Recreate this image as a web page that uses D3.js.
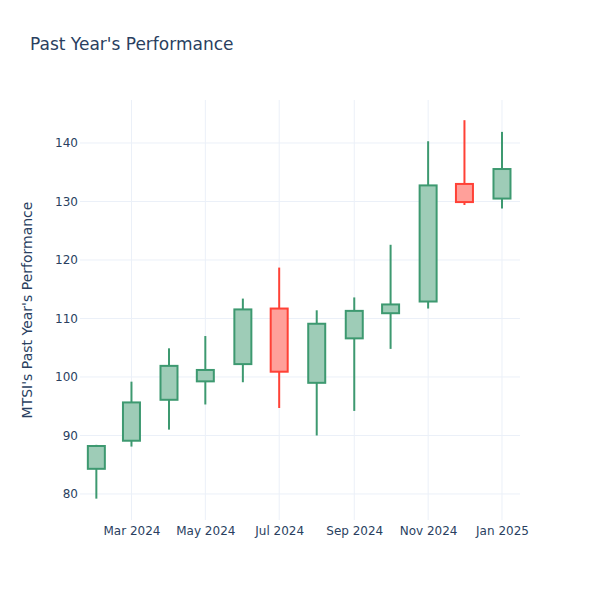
<!DOCTYPE html>
<html><head><meta charset="utf-8">
<script src="https://cdn.jsdelivr.net/npm/d3@7"></script>
<style>body{margin:0;background:#fff}svg{display:block}</style>
</head><body>
<svg id="c" width="600" height="600"></svg>
<script>
const dates = ["2024-02-01","2024-03-01","2024-04-01","2024-05-01","2024-06-01","2024-07-01","2024-08-01","2024-09-01","2024-10-01","2024-11-01","2024-12-01","2025-01-01"];
const open  = [84.3, 89.1, 96.1, 99.25, 102.2, 111.7, 99.0, 106.6, 110.9, 112.9, 133.0, 130.5];
const high  = [88.4, 99.2, 104.9, 107.0, 113.4, 118.7, 111.4, 113.6, 122.6, 140.3, 143.9, 141.9];
const low   = [79.2, 88.1, 91.0, 95.3, 99.1, 94.7, 90.0, 94.2, 104.8, 111.7, 129.4, 128.8];
const close = [88.2, 95.65, 101.9, 101.2, 111.55, 100.9, 109.1, 111.3, 112.4, 132.75, 129.9, 135.55];
const yTicks = [80, 90, 100, 110, 120, 130, 140];
const xTickDates = ["2024-03-01","2024-05-01","2024-07-01","2024-09-01","2024-11-01","2025-01-01"];

const W = 600, H = 600, m = {l:80, r:80, t:100, b:80};
const FONT = "'DejaVu Sans', 'Open Sans', sans-serif";
const svg = d3.select("#c");
const parse = d3.utcParse("%Y-%m-%d");
const data = dates.map((d,i)=>({d:parse(d), o:open[i], h:high[i], l:low[i], c:close[i]}));

const x = d3.scaleUtc()
  .domain([Date.UTC(2024,0,18,12), Date.UTC(2025,0,15,21)])
  .range([m.l, W-m.r]);
const y = d3.scaleLinear().domain([75.55, 147.35]).range([H-m.b, m.t]);

// grid
const g = svg.append("g");
g.selectAll(".gx").data(xTickDates.map(parse)).join("line")
  .attr("x1", d=>x(d)).attr("x2", d=>x(d)).attr("y1", m.t).attr("y2", H-m.b)
  .attr("stroke", "#EBF0F8").attr("stroke-width", 1);
g.selectAll(".gy").data(yTicks).join("line")
  .attr("x1", m.l).attr("x2", W-m.r).attr("y1", d=>y(d)).attr("y2", d=>y(d))
  .attr("stroke", "#EBF0F8").attr("stroke-width", 1);

// axes
const xAxis = d3.axisBottom(x).tickValues(xTickDates.map(parse))
  .tickFormat(d3.utcFormat("%b %Y")).tickSize(0).tickPadding(6);
const xg = svg.append("g").attr("transform", `translate(0,${H-m.b})`).call(xAxis);
const yAxis = d3.axisLeft(y).tickValues(yTicks).tickSize(0).tickPadding(2);
const yg = svg.append("g").attr("transform", `translate(${m.l},0)`).call(yAxis);
[xg, yg].forEach(a=>{
  a.select(".domain").remove();
  a.selectAll("text").attr("fill", "#2a3f5f").style("font-family", FONT).style("font-size", "12px");
});

// candles
const bw = 17;
const inc = "#3D9970", dec = "#FF4136";
const cg = svg.append("g").selectAll("g").data(data).join("g");
cg.append("line")
  .attr("x1", d=>x(d.d)).attr("x2", d=>x(d.d))
  .attr("y1", d=>y(d.h)).attr("y2", d=>y(d.l))
  .attr("stroke", d=>d.c>=d.o?inc:dec).attr("stroke-width", 2);
cg.append("rect")
  .attr("x", d=>x(d.d)-bw/2).attr("width", bw)
  .attr("y", d=>y(Math.max(d.o,d.c)))
  .attr("height", d=>Math.max(1, y(Math.min(d.o,d.c))-y(Math.max(d.o,d.c))))
  .attr("fill", d=>d.c>=d.o?"rgb(158,204,183)":"rgb(255,160,154)")
  .attr("stroke", d=>d.c>=d.o?inc:dec).attr("stroke-width", 2);

// titles
svg.append("text").attr("x", 30).attr("y", 50).text("Past Year's Performance")
  .attr("fill", "#2a3f5f").style("font-family", FONT).style("font-size", "17px");
svg.append("text").attr("transform", `translate(32,${(m.t+H-m.b)/2}) rotate(-90)`)
  .attr("text-anchor", "middle").text("MTSI's Past Year's Performance")
  .attr("fill", "#2a3f5f").style("font-family", FONT).style("font-size", "14px");
</script>
</body></html>
